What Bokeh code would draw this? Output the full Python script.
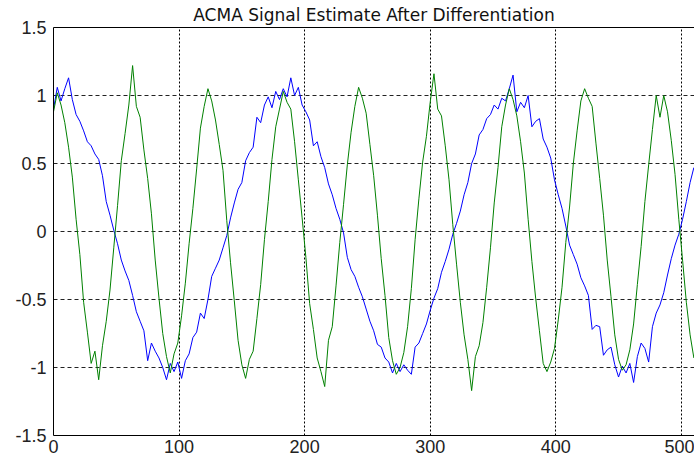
from bokeh.plotting import figure
from bokeh.models import LinearAxis, FixedTicker, Range1d
from bokeh.embed import file_html
from bokeh.resources import INLINE

title_text = "ACMA Signal Estimate After Differentiation"
x_ticks = [0, 100, 200, 300, 400, 500]
y_ticks = [-1.5, -1, -0.5, 0, 0.5, 1, 1.5]
y_tick_labels = ["-1.5", "-1", "-0.5", "0", "0.5", "1", "1.5"]

# sample index (every 3rd sample of the 512-sample record)
sample_idx = list(range(0, 511, 3))

blue_series = [
    0.90, 1.06, 0.96, 1.05, 1.13, 0.97, 0.86, 0.81, 0.74, 0.66,
    0.63, 0.57, 0.53, 0.41, 0.22, 0.12, 0.01, -0.09, -0.21, -0.29,
    -0.36, -0.47, -0.59, -0.66, -0.73, -0.95, -0.82, -0.88, -0.93, -1.00,
    -1.09, -0.97, -1.03, -0.96, -1.08, -0.95, -0.90, -0.78, -0.74, -0.60,
    -0.64, -0.50, -0.33, -0.27, -0.21, -0.12, -0.03, 0.10, 0.21, 0.31,
    0.36, 0.52, 0.58, 0.62, 0.84, 0.80, 0.93, 0.99, 0.91, 1.03,
    0.97, 1.05, 0.99, 1.13, 1.00, 1.06, 0.93, 0.88, 0.82, 0.63,
    0.66, 0.55, 0.47, 0.35, 0.27, 0.17, 0.09, -0.01, -0.19, -0.28,
    -0.33, -0.41, -0.48, -0.57, -0.66, -0.73, -0.83, -0.85, -0.93, -0.96,
    -1.04, -0.97, -1.03, -0.98, -1.02, -1.05, -0.85, -0.82, -0.75, -0.68,
    -0.58, -0.49, -0.42, -0.30, -0.22, -0.13, -0.02, 0.06, 0.15, 0.27,
    0.36, 0.50, 0.57, 0.71, 0.75, 0.83, 0.86, 0.93, 0.90, 0.98,
    0.96, 1.05, 1.15, 0.88, 0.95, 0.91, 1.00, 0.77, 0.81, 0.83,
    0.68, 0.62, 0.54, 0.38, 0.27, 0.17, 0.04, -0.10, -0.17, -0.24,
    -0.34, -0.40, -0.47, -0.72, -0.69, -0.70, -0.91, -0.87, -0.85, -0.98,
    -1.07, -0.99, -1.04, -0.97, -1.11, -0.92, -0.82, -0.86, -0.96, -0.70,
    -0.60, -0.54, -0.45, -0.32, -0.20, -0.10, -0.02, 0.09, 0.22, 0.36,
    0.47,
]

green_series = [
    0.88, 1.02, 0.93, 0.80, 0.62, 0.40, 0.09, -0.17, -0.52, -0.74,
    -0.97, -0.88, -1.09, -0.84, -0.66, -0.43, -0.12, 0.19, 0.52, 0.72,
    0.93, 1.22, 0.92, 0.84, 0.60, 0.39, 0.13, -0.21, -0.49, -0.75,
    -0.92, -1.04, -0.90, -0.82, -0.62, -0.38, -0.09, 0.17, 0.46, 0.76,
    0.92, 1.05, 0.96, 0.82, 0.64, 0.45, 0.08, -0.23, -0.51, -0.80,
    -0.98, -1.08, -0.94, -0.88, -0.64, -0.39, -0.06, 0.22, 0.53, 0.77,
    0.90, 1.03, 0.95, 0.90, 0.66, 0.38, 0.10, -0.19, -0.53, -0.72,
    -0.93, -1.03, -1.14, -0.80, -0.70, -0.40, -0.08, 0.20, 0.49, 0.73,
    0.92, 1.06, 0.98, 0.87, 0.64, 0.41, 0.12, -0.20, -0.47, -0.78,
    -0.95, -1.05, -1.00, -0.89, -0.70, -0.42, -0.06, 0.24, 0.51, 0.70,
    0.95, 1.16, 0.90, 0.85, 0.63, 0.38, 0.05, -0.24, -0.52, -0.76,
    -0.94, -1.17, -0.92, -0.84, -0.67, -0.41, -0.12, 0.21, 0.47, 0.77,
    0.93, 1.05, 0.97, 0.85, 0.66, 0.43, 0.09, -0.22, -0.49, -0.73,
    -0.97, -1.03, -0.96, -0.86, -0.65, -0.41, -0.08, 0.18, 0.50, 0.74,
    0.96, 1.05, 0.98, 0.92, 0.65, 0.39, 0.12, -0.21, -0.48, -0.76,
    -0.94, -1.02, -0.98, -0.87, -0.68, -0.39, -0.11, 0.22, 0.49, 0.75,
    1.00, 0.84, 1.00, 0.88, 0.67, 0.42, 0.09, -0.21, -0.52, -0.76,
    -0.93,
]

p = figure(
    width=694, height=461,
    x_range=Range1d(0, 510.5), y_range=Range1d(-1.5, 1.5),
    output_backend="svg", toolbar_location=None,
    min_border_left=53, min_border_right=0,
    min_border_top=27, min_border_bottom=26,
)
p.outline_line_color = None
p.background_fill_color = "white"
p.border_fill_color = "white"

p.title.text = title_text
p.title.align = "center"
p.title.vertical_align = "top"
p.title.text_font = "DejaVu Sans"
p.title.text_font_size = "17px"
p.title.text_font_style = "normal"
p.title.text_color = "#111111"
p.title.standoff = 1
p.title.offset = 0

xa = p.below[0]
xa.ticker = FixedTicker(ticks=x_ticks)
xa.major_tick_in = 0
xa.major_tick_out = 0
xa.minor_tick_in = 0
xa.minor_tick_out = 0
xa.major_label_standoff = 4
xa.major_label_text_font = "Liberation Sans"
xa.major_label_text_font_size = "18px"
xa.major_label_text_color = "#222222"
xa.axis_line_color = "black"

ya = p.left[0]
ya.ticker = FixedTicker(ticks=y_ticks)
ya.major_label_overrides = {t: s for t, s in zip(y_ticks, y_tick_labels)}
ya.major_tick_in = 0
ya.major_tick_out = 0
ya.minor_tick_in = 0
ya.minor_tick_out = 0
ya.major_label_standoff = 7
ya.major_label_text_font = "Liberation Sans"
ya.major_label_text_font_size = "18px"
ya.major_label_text_color = "#222222"
ya.axis_line_color = "black"

top_axis = LinearAxis(ticker=FixedTicker(ticks=[]), major_label_text_font_size="0px",
                      major_tick_in=0, major_tick_out=0, minor_tick_in=0, minor_tick_out=0,
                      major_label_standoff=0, axis_line_color="black")
p.add_layout(top_axis, "above")

p.xgrid.ticker = FixedTicker(ticks=x_ticks[1:])
p.xgrid.grid_line_color = "black"
p.xgrid.grid_line_dash = "2 2"
p.ygrid.ticker = FixedTicker(ticks=y_ticks[1:-1])
p.ygrid.grid_line_color = "#222222"
p.ygrid.grid_line_dash = "4 3"

p.line(sample_idx, blue_series, line_color="#0000ff", line_width=1)
p.line(sample_idx, green_series, line_color="#008000", line_width=1)

open("out.html", "w").write(file_html(p, INLINE))
